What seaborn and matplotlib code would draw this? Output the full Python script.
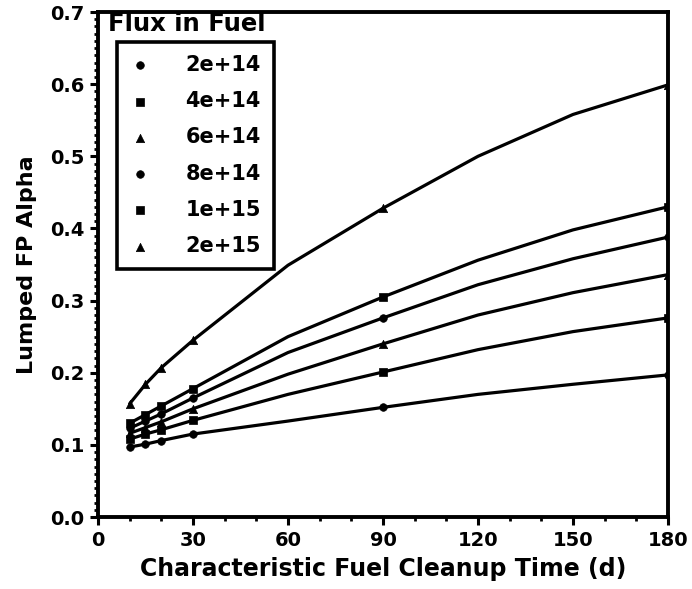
import matplotlib
matplotlib.use("Agg")
import matplotlib.pyplot as plt
import seaborn as sns
import numpy as np
import pandas as pd
from matplotlib.ticker import MultipleLocator

sns.set_theme(style="ticks")
plt.rcParams['font.family'] = ['DejaVu Sans']
plt.rcParams['font.weight'] = 'bold'
plt.rcParams['text.color'] = 'black'

# Data
days = [10, 15, 20, 30, 60, 90, 120, 150, 180]
mark_idx = [0, 1, 2, 3, 5, 8]   # points that carry a marker (10, 15, 20, 30, 90, 180 d)
flux_labels = ["2e+14", "4e+14", "6e+14", "8e+14", "1e+15", "2e+15"]
alpha_2e14 = [0.097, 0.101, 0.106, 0.115, 0.133, 0.152, 0.170, 0.184, 0.197]
alpha_4e14 = [0.108, 0.115, 0.121, 0.134, 0.170, 0.201, 0.232, 0.257, 0.276]
alpha_6e14 = [0.116, 0.124, 0.132, 0.150, 0.198, 0.240, 0.280, 0.311, 0.336]
alpha_8e14 = [0.123, 0.133, 0.143, 0.165, 0.228, 0.276, 0.322, 0.358, 0.388]
alpha_1e15 = [0.130, 0.142, 0.154, 0.178, 0.250, 0.305, 0.356, 0.398, 0.430]
alpha_2e15 = [0.157, 0.184, 0.207, 0.245, 0.349, 0.428, 0.500, 0.558, 0.599]
series = [alpha_2e14, alpha_4e14, alpha_6e14, alpha_8e14, alpha_1e15, alpha_2e15]
markers = ["o", "s", "^", "o", "s", "^"]
x_ticks = [0, 30, 60, 90, 120, 150, 180]
y_ticks = [0.0, 0.1, 0.2, 0.3, 0.4, 0.5, 0.6, 0.7]

fig = plt.figure(figsize=(6.92, 5.89), dpi=100)
ax = fig.add_axes([0.1416, 0.1222, 0.8237, 0.8574])

for lab, vals, m in zip(flux_labels, series, markers):
    df = pd.DataFrame({"day": days, "alpha": vals})
    sns.lineplot(data=df, x="day", y="alpha", color="black", lw=2.3, ax=ax)
    dm = df.iloc[mark_idx]
    sns.scatterplot(data=dm, x="day", y="alpha", color="black", marker=m,
                    s=30 if m != "^" else 36, edgecolor="black", linewidth=0.5,
                    label=lab, ax=ax, zorder=5)

ax.set_xlim(0, 180)
ax.set_ylim(0, 0.7)
ax.set_xticks(x_ticks)
ax.set_yticks(y_ticks)
ax.set_yticklabels([f"{v:.1f}" for v in y_ticks])
ax.xaxis.set_minor_locator(MultipleLocator(10))
ax.yaxis.set_minor_locator(MultipleLocator(0.01))
ax.tick_params(axis="both", which="major", direction="out", length=6, width=2.2,
               labelsize=14, color="black", labelcolor="black", pad=4)
ax.tick_params(axis="both", which="minor", direction="out", length=3, width=2, color="black")
for lbl in ax.get_xticklabels() + ax.get_yticklabels():
    lbl.set_fontweight("bold")

for sp in ax.spines.values():
    sp.set_visible(True)
    sp.set_linewidth(2.8)
    sp.set_color("black")

ax.set_xlabel("Characteristic Fuel Cleanup Time (d)", fontsize=17, fontweight="bold",
              color="black", labelpad=5)
ax.set_ylabel("Lumped FP Alpha", fontsize=16, fontweight="bold", color="black", labelpad=9)

leg = ax.legend(loc="upper left", bbox_to_anchor=(0.033, 0.94), borderaxespad=0,
                frameon=True, fancybox=False, edgecolor="black",
                prop={"size": 15, "weight": "bold"}, handletextpad=1.7,
                labelspacing=0.78, borderpad=0.6, handlelength=1.0,
                markerscale=1.0, labelcolor="black")
leg.get_frame().set_linewidth(2.6)
leg.get_frame().set_alpha(1.0)

ax.text(0.156, 0.976, "Flux in Fuel", transform=ax.transAxes, ha="center", va="center",
        fontsize=17.5, fontweight="bold", color="black")

fig.savefig("out.png", dpi=100)
